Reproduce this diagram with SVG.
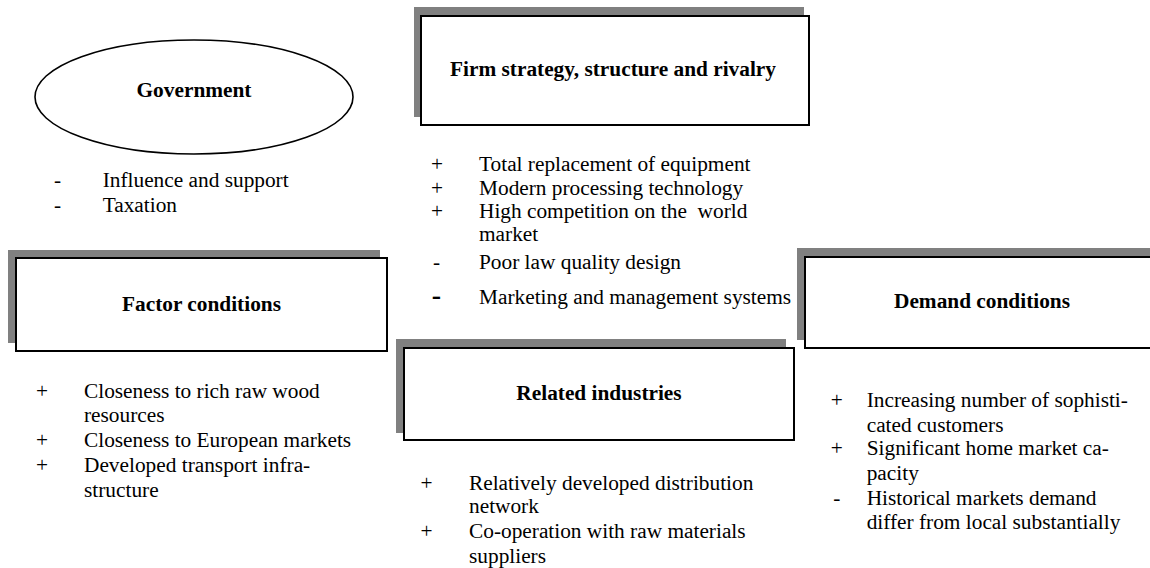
<svg xmlns="http://www.w3.org/2000/svg" width="1150" height="568" viewBox="0 0 1150 568">
<style>
text{font-family:"Liberation Serif","Times New Roman",serif;font-size:21.33px;fill:#000}
.t{font-weight:bold;text-anchor:middle}
.b{text-anchor:middle}
.big{font-weight:bold;font-size:28px;text-anchor:middle}
.sh{fill:#808080}
.bx{fill:#fff;stroke:#000;stroke-width:2}
</style>
<rect width="1150" height="568" fill="#fff"/>
<g id="connectors"/>
<g id="government">
<ellipse cx="194" cy="97" rx="159" ry="57" fill="#fff" stroke="#000" stroke-width="1.6"/>
<text class="t" x="194" y="97">Government</text>
<text class="b" x="57.5" y="186.7">-</text><text x="102.7" y="186.7">Influence and support</text>
<text class="b" x="57.5" y="211.7">-</text><text x="102.7" y="211.7">Taxation</text>
</g>
<g id="firm">
<rect class="sh" x="414" y="7" width="390" height="110"/>
<rect class="bx" x="421" y="16" width="388" height="109"/>
<text class="t" x="613" y="76">Firm strategy, structure and rivalry</text>
<text class="b" x="437" y="171">+</text><text x="479" y="171">Total replacement of equipment</text>
<text class="b" x="437" y="194.5">+</text><text x="479" y="194.5">Modern processing technology</text>
<text class="b" x="437" y="218">+</text><text x="479" y="218" xml:space="preserve">High competition on the  world</text>
<text x="479" y="241">market</text>
<text class="b" x="436.5" y="269">-</text><text x="479" y="269">Poor law quality design</text>
<text class="big" x="436.5" y="304">-</text><text x="479" y="304">Marketing and management systems</text>
</g>
<g id="factor">
<rect class="sh" x="8" y="250" width="372" height="93"/>
<rect class="bx" x="16" y="258" width="371" height="93"/>
<text class="t" x="201.5" y="311">Factor conditions</text>
<text class="b" x="42" y="398.3">+</text><text x="84" y="398.3">Closeness to rich raw wood</text>
<text x="84" y="421.7">resources</text>
<text class="b" x="42" y="447.3">+</text><text x="84" y="447.3">Closeness to European markets</text>
<text class="b" x="42" y="471.7">+</text><text x="84" y="471.7">Developed transport infra-</text>
<text x="84" y="496.7">structure</text>
</g>
<g id="demand">
<rect class="sh" x="797" y="248" width="370" height="92"/>
<rect class="bx" x="805" y="257" width="370" height="91"/>
<text class="t" x="982" y="308.3">Demand conditions</text>
<text class="b" x="836.7" y="406.7">+</text><text x="866.7" y="406.7">Increasing number of sophisti-</text>
<text x="866.7" y="431.7">cated customers</text>
<text class="b" x="836.7" y="455">+</text><text x="866.7" y="455">Significant home market ca-</text>
<text x="866.7" y="480">pacity</text>
<text class="b" x="836.7" y="505">-</text><text x="866.7" y="505">Historical markets demand</text>
<text x="866.7" y="529">differ from local substantially</text>
</g>
<g id="related">
<rect class="sh" x="396" y="339" width="390" height="94"/>
<rect class="bx" x="404" y="348" width="390" height="92"/>
<text class="t" x="599" y="400">Related industries</text>
<text class="b" x="426.5" y="490">+</text><text x="469" y="490">Relatively developed distribution</text>
<text x="469" y="513.3">network</text>
<text class="b" x="426.5" y="538.3">+</text><text x="469" y="538.3">Co-operation with raw materials</text>
<text x="469" y="562.7">suppliers</text>
</g>
</svg>
